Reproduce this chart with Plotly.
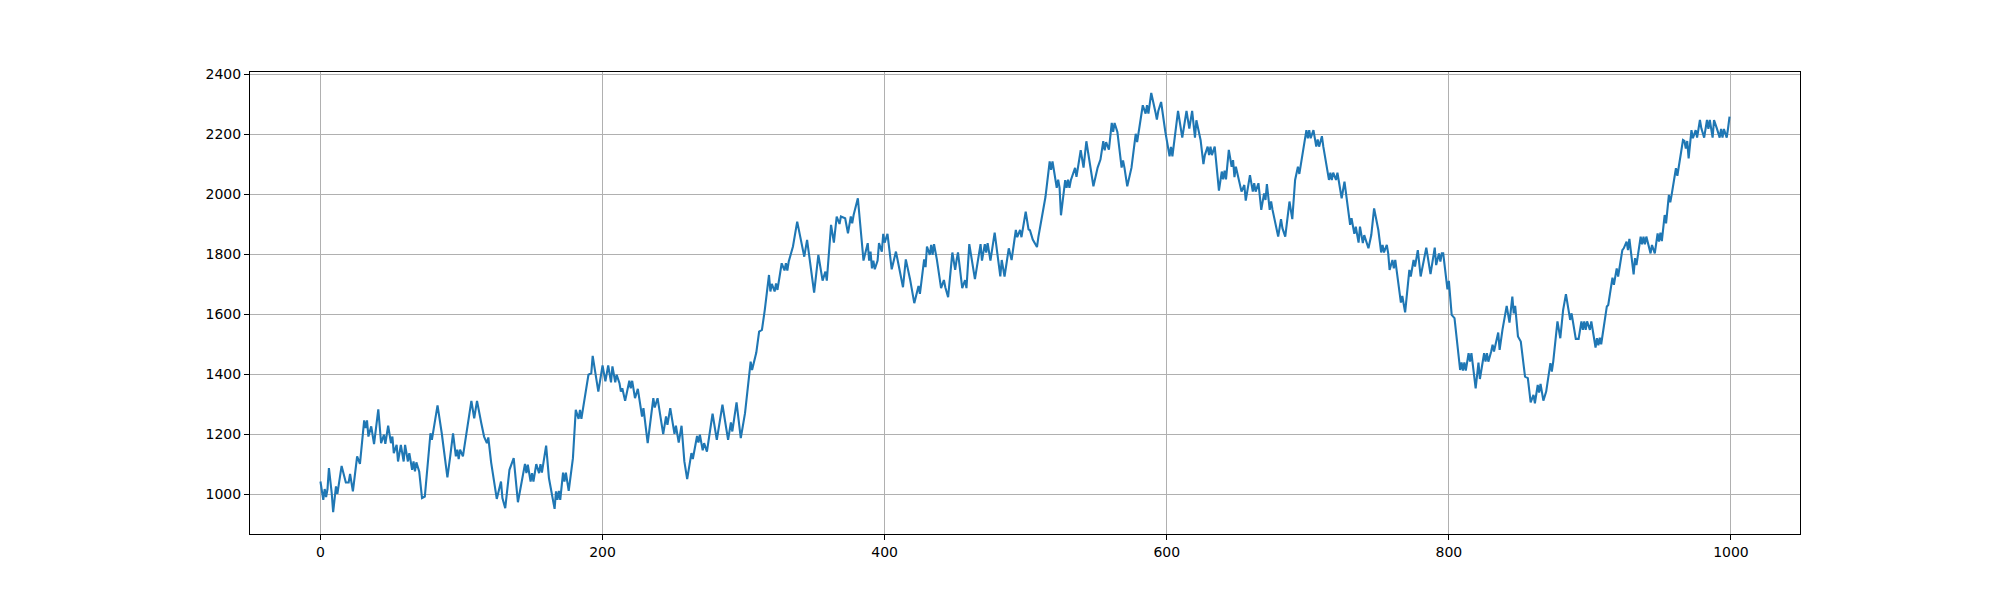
import plotly.graph_objects as go

# Values (step index, value)
steps = [
    0, 2, 3, 4, 5, 6, 8, 9, 11, 12, 15, 18, 20, 21, 23, 26, 28, 29, 31, 32,
    33, 34, 36, 38, 41, 43, 45, 46, 48, 50, 51, 52, 54, 55, 57, 59, 60, 62, 63, 65,
    66, 67, 68, 70, 72, 74, 77, 78, 79, 83, 86, 90, 92, 94, 96, 97, 98, 99, 101, 102,
    104, 107, 109, 111, 114, 116, 118, 119, 121,
    125, 128, 129, 131, 134, 137, 140, 145, 146, 147, 149, 150, 151, 153, 155, 156,
    157, 160, 162, 166, 167, 168, 169, 170, 172, 173, 174, 176, 179, 181, 183, 184,
    185, 186, 190, 192, 193, 197, 200, 202, 204, 206, 207, 209, 210, 212, 213, 214,
    216, 219, 220, 221, 223, 225, 228, 229, 232, 236, 237, 239, 243, 245, 246, 248,
    251, 252, 254, 256, 258, 260, 263, 264, 267, 268, 269, 271, 272, 274, 278, 281,
    285, 289, 291, 292, 295, 298, 299, 301, 305, 306, 309, 311, 313, 315, 318, 319,
    320, 322, 323, 324, 327, 329, 330, 331, 332, 335, 338, 343, 345, 350, 353, 356,
    358, 359, 362, 364, 366, 368, 369, 372, 374, 376, 377, 378,
    381, 383, 385, 388, 389, 390, 391, 392, 393, 395, 396, 398, 399, 400, 402, 405,
    408, 413, 415, 418, 421, 424, 425, 428, 429, 430, 432, 433, 434, 435, 437, 440,
    442, 443, 445, 448, 450, 451, 452, 455, 457, 458, 460, 464, 468, 469, 471, 472,
    473, 475, 478, 482, 483, 485, 488, 490, 493, 494, 496, 497, 499, 500, 502,
    503, 505, 508, 509, 514, 517, 518, 519, 522, 523, 524, 525, 528, 529, 530, 531,
    532, 535, 536, 539, 541, 543, 548, 551, 553, 555, 556, 557, 559, 561, 562, 563,
    565, 568, 569, 570, 572, 575, 577, 578, 579, 583, 585, 586, 587, 589, 592, 593,
    594, 596, 599, 602, 603, 604, 608, 611, 614, 616, 618, 620, 621,
    624, 626, 627, 629, 630, 631, 632, 634, 637, 639, 640, 641, 642, 644, 646, 647,
    648, 649, 653, 655, 656, 659, 661, 662, 663, 665, 667, 669, 670, 671, 673, 674,
    675, 679, 681, 682, 684, 687, 689, 691, 693, 694, 699, 700, 701, 702, 704, 706,
    707, 708, 710, 711, 713, 715, 716, 717, 718, 720, 721, 724, 726, 730, 731, 733,
    734, 736, 737, 739, 740, 743, 745, 747,
    750, 752, 753, 754, 756, 757, 758, 760, 761, 762, 766, 767, 769, 772, 773, 775,
    776, 778, 780, 784, 787, 790, 791, 793, 794, 795, 796, 799, 800, 802, 804, 808,
    809, 810, 811, 812, 814, 815, 816, 819, 821, 822, 825, 826, 827, 828, 830, 831,
    832, 835, 836, 838, 841, 843, 845, 846, 847, 849, 851, 854, 856, 858, 860, 861,
    863, 864, 865, 867, 869, 872, 873,
    874, 877, 879, 881, 883, 886, 887, 890, 892, 894, 895, 896, 897, 898, 900, 901,
    904, 905, 906, 907, 908, 912, 913, 916, 917, 919, 920, 923, 924, 926, 927, 928,
    931, 932, 933, 936, 937, 938, 939, 940, 943, 944, 946, 948, 949, 950, 951, 953,
    954, 956, 957, 958, 961, 962, 966, 967, 968, 969, 970, 972, 973, 975, 976, 978,
    979, 981, 983, 984, 985, 987, 988, 990, 992, 993, 994, 995, 997, 998, 999,
]

values = [
    1042, 981, 1017, 990, 1017, 1087, 1003, 940, 1026, 1001, 1094, 1039, 1039, 1067, 1009, 1126, 1101, 1153, 1246, 1220,
    1246, 1192, 1226, 1167, 1283, 1170, 1198, 1168, 1228, 1170, 1192, 1137, 1164, 1109, 1164, 1109, 1164, 1109, 1137, 1081,
    1109, 1076, 1106, 1076, 987, 992, 1148, 1203, 1181, 1296, 1203, 1056, 1126, 1203, 1126, 1148, 1117, 1148, 1126, 1159,
    1226, 1311, 1253, 1311, 1237, 1192, 1170, 1189, 1106,
    984, 1042, 987, 953, 1081, 1120, 973, 1101, 1070, 1098, 1042, 1070, 1042, 1100, 1070, 1100,
    1072, 1162, 1053, 951, 1009, 981, 1011, 981, 1072, 1042, 1072, 1011, 1120, 1281, 1251, 1281,
    1251, 1281, 1398, 1403, 1461, 1342, 1429, 1376, 1429, 1373, 1426, 1373, 1398, 1370, 1342, 1353,
    1311, 1378, 1353, 1378, 1320, 1351, 1259, 1287, 1170, 1320, 1289, 1320, 1200, 1259, 1231, 1287,
    1201, 1228, 1172, 1228, 1109, 1050, 1137, 1117, 1194, 1172, 1198, 1146, 1170, 1142, 1268, 1181,
    1298, 1181, 1239, 1209, 1306, 1187, 1218, 1270, 1442, 1414, 1472, 1542, 1548, 1614, 1731, 1676,
    1701, 1676, 1703, 1681, 1770, 1746, 1770, 1746, 1776, 1826, 1909, 1792, 1848, 1672, 1798, 1712,
    1742, 1712, 1898, 1839, 1926, 1901, 1926, 1920, 1870, 1926, 1903, 1931,
    1987, 1892, 1779, 1837, 1779, 1809, 1753, 1779, 1750, 1779, 1837, 1809, 1868, 1839, 1868, 1750,
    1809, 1690, 1783, 1717, 1637, 1694, 1668, 1783, 1757, 1826, 1798, 1831, 1798, 1834, 1783, 1687,
    1714, 1690, 1657, 1806, 1748, 1781, 1806, 1687, 1714, 1687, 1834, 1717, 1834, 1779, 1834, 1806,
    1837, 1779, 1872, 1726, 1781, 1726, 1820, 1781, 1881, 1857, 1881, 1857, 1914, 1942, 1883,
    1880, 1849, 1824, 1858, 1991, 2110, 2082, 2110, 2022, 2049, 2022, 1930, 2047, 2022, 2049, 2022,
    2047, 2088, 2058, 2147, 2089, 2177, 2027, 2089, 2116, 2177, 2147, 2174, 2149, 2238, 2208, 2238,
    2208, 2089, 2113, 2089, 2027, 2089, 2174, 2202, 2174, 2297, 2269, 2297, 2269, 2338, 2274, 2249,
    2278, 2308, 2208, 2127, 2158, 2127, 2278, 2189, 2278, 2219, 2278, 2189, 2247,
    2181, 2101, 2131, 2159, 2131, 2159, 2131, 2159, 2012, 2076, 2050, 2079, 2050, 2148, 2092, 2114,
    2057, 2092, 2009, 2031, 1979, 2064, 2009, 2037, 2009, 2037, 1948, 2003, 1981, 2034, 1948, 1976,
    1948, 1859, 1917, 1887, 1859, 1976, 1917, 2048, 2092, 2068, 2214, 2187, 2214, 2187, 2214, 2159,
    2183, 2159, 2194, 2159, 2103, 2048, 2072, 2048, 2072, 2048, 2072, 1987, 2042, 1898, 1920, 1868,
    1892, 1839, 1892, 1837, 1864, 1820, 1864, 1953,
    1881, 1806, 1831, 1806, 1831, 1803, 1748, 1781, 1753, 1781, 1639, 1661, 1606, 1748, 1726, 1781,
    1759, 1814, 1726, 1822, 1734, 1822, 1764, 1803, 1776, 1803, 1803, 1683, 1711, 1598, 1587, 1414,
    1439, 1412, 1439, 1412, 1470, 1442, 1470, 1353, 1439, 1384, 1470, 1442, 1470, 1442, 1476, 1498,
    1476, 1539, 1481, 1548, 1628, 1572, 1659, 1603, 1628, 1526, 1509, 1392, 1387, 1306, 1331, 1303,
    1364, 1339, 1368, 1312, 1342, 1437, 1409,
    1442, 1576, 1520, 1614, 1667, 1581, 1603, 1518, 1518, 1576, 1548, 1576, 1548, 1576, 1548, 1576,
    1489, 1520, 1496, 1522, 1500, 1626, 1631, 1722, 1698, 1753, 1726, 1814, 1820, 1842, 1814, 1851,
    1733, 1787, 1764, 1859, 1833, 1859, 1833, 1859, 1803, 1831, 1803, 1870, 1842, 1872, 1844, 1931,
    1903, 1998, 1973, 2000, 2087, 2062, 2181, 2178, 2153, 2178, 2120, 2214, 2187, 2214, 2189, 2248,
    2220, 2189, 2248, 2218, 2248, 2189, 2248, 2220, 2189, 2218, 2189, 2218, 2189, 2222, 2259,
]

x_ticks = [0, 200, 400, 600, 800, 1000]
y_ticks = [1000, 1200, 1400, 1600, 1800, 2000, 2200, 2400]

fig = go.Figure()
fig.add_trace(
    go.Scatter(
        x=steps,
        y=values,
        mode="lines",
        line=dict(color="#1f77b4", width=2.1),
        showlegend=False,
    )
)

axis_style = dict(
    showline=True,
    linecolor="black",
    linewidth=1.1,
    mirror=True,
    ticks="outside",
    ticklen=5,
    tickwidth=1.1,
    tickcolor="black",
    showgrid=True,
    gridcolor="#b0b0b0",
    gridwidth=1.1,
    zeroline=False,
    tickfont=dict(family="DejaVu Sans", size=14, color="black"),
)

fig.update_xaxes(range=[-49.95, 1048.95], tickvals=x_ticks, **axis_style)
fig.update_yaxes(range=[867, 2408], tickvals=y_ticks, **axis_style)

# page body adds an 8px offset, so margins are shifted to compensate
fig.update_layout(
    width=2000,
    height=600,
    margin=dict(l=242, r=208, t=64, b=74, autoexpand=False),
    plot_bgcolor="white",
    paper_bgcolor="white",
)

fig.write_html("out.html")
